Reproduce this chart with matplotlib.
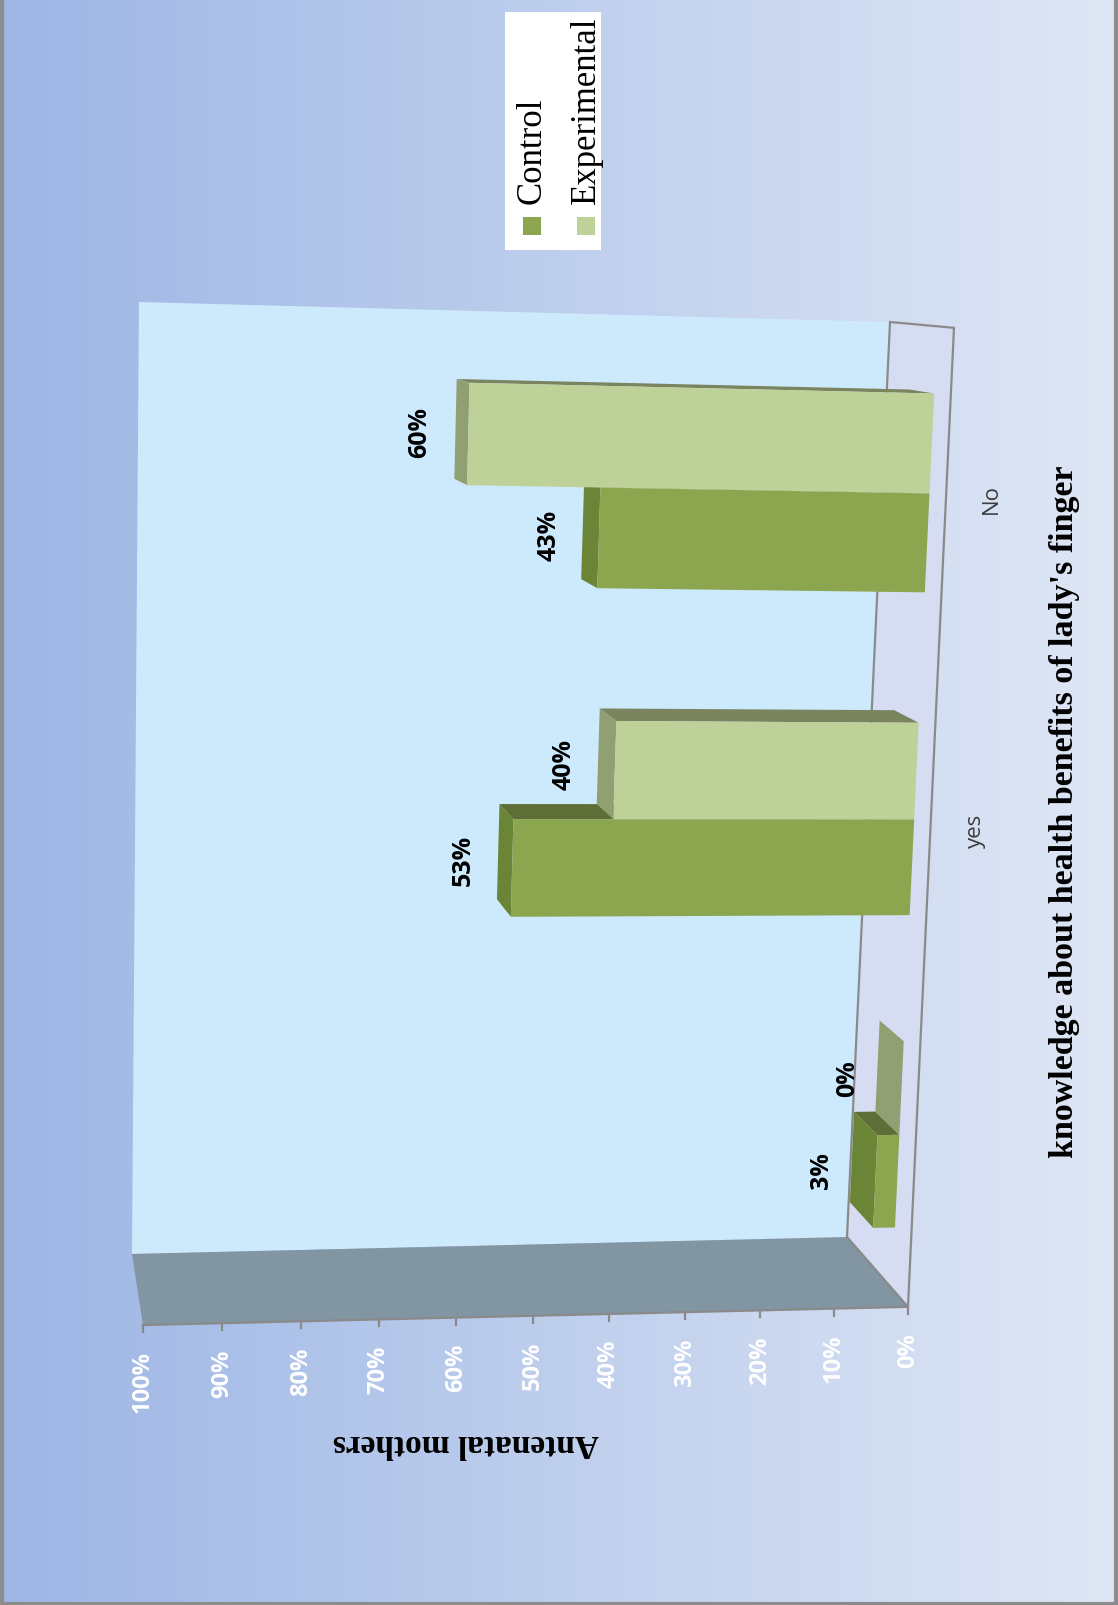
import numpy as np
import matplotlib.pyplot as plt
from matplotlib.patches import Polygon, Rectangle

# data
categories = ['', 'yes', 'No']
control = [3, 53, 43]
experimental = [0, 40, 60]
series_names = ['Control', 'Experimental']
tick_values = list(range(0, 101, 10))

W, H = 1118, 1606
fig = plt.figure(figsize=(W / 100, H / 100), dpi=100)
ax = fig.add_axes([0, 0, 1, 1])
ax.set_xlim(0, W)
ax.set_ylim(H, 0)
ax.axis('off')

SANS = 'Open Sans'
SERIF = 'Liberation Serif'

# background gradient (chart is laid on its side)
c_left = np.array([157, 182, 229]) / 255
c_right = np.array([223, 231, 245]) / 255
t = np.linspace(0, 1, 256)[None, :, None]
grad = c_left * (1 - t) + c_right * t
ax.imshow(grad, extent=(0, W, H, 0), aspect='auto', zorder=0)


# perspective: back wall plane via homography, depth towards a vanishing point
def homography(src, dst):
    rows = []
    for (x, y), (u, v) in zip(src, dst):
        rows.append([x, y, 1, 0, 0, 0, -u * x, -u * y, -u])
        rows.append([0, 0, 0, x, y, 1, -v * x, -v * y, -v])
    _, _, vt = np.linalg.svd(np.array(rows, float))
    return vt[-1].reshape(3, 3)


HM = homography([(0, 0), (1, 0), (1, 1), (0, 1)],
                [(847, 1238), (132, 1255), (139, 303), (890, 323)])
VP = np.array([-24.0, 240.0])
K = 0.07


def proj(val, c, d):
    p = HM @ np.array([val / 100.0, c, 1.0])
    p = p[:2] / p[2]
    return VP + (p - VP) * (1 + K * d)


def face(pts, color, z, ec='none', lw=0):
    ax.add_patch(Polygon(np.array(pts), closed=True, facecolor=color,
                         edgecolor=ec, linewidth=lw, zorder=z))


# back wall, side wall, floor
face([proj(0, 0, 0), proj(100, 0, 0), proj(100, 1, 0), proj(0, 1, 0)], '#cdeafd', 1)
face([proj(0, 0, 0), proj(100, 0, 0), proj(100, 0, 1), proj(0, 0, 1)], '#8196a2', 1)
face([proj(0, 0, 0), proj(0, 1, 0), proj(0, 1, 1), proj(0, 0, 1)], '#d6ddf2', 1,
     ec='#8a8a8a', lw=1.6)
edge = np.array([proj(0, 0, 1), proj(100, 0, 1)])
ax.plot(edge[:, 0], edge[:, 1], color='#8a8a8a', lw=1.6, zorder=2)

# value axis ticks and labels along the front edge
for v in tick_values:
    x0, y0 = proj(v, 0, 1)
    ax.plot([x0, x0], [y0, y0 + 7], color='#8a8a8a', lw=1.6, zorder=2)
    ax.text(x0, y0 + 25, f'{v}%', rotation=90, ha='center', va='top',
            color='white', fontsize=17, fontweight='bold', family=SANS, zorder=3)

# bars
bw = 0.1
d0, d1 = 0.35, 0.74
styles = [
    ('#8ca650', '#6b8537', '#5f6e37'),
    ('#bed198', '#91a073', '#7a845f'),
]
z = 5
for i in range(len(categories)):
    center = (i + 0.5) / len(categories)
    for s, vals in enumerate([control, experimental]):
        val = vals[i]
        ca = center - bw + s * bw
        cb = ca + bw
        front_c, top_c, side_c = styles[s]
        face([proj(0, cb, d0), proj(val, cb, d0), proj(val, cb, d1), proj(0, cb, d1)], side_c, z)
        face([proj(val, ca, d0), proj(val, cb, d0), proj(val, cb, d1), proj(val, ca, d1)], top_c, z)
        face([proj(0, ca, d1), proj(val, ca, d1), proj(val, cb, d1), proj(0, cb, d1)], front_c, z)
        z += 1
        lx, ly = proj(val, (ca + cb) / 2, (d0 + d1) / 2)
        ax.text(lx - 42, ly, f'{val}%', rotation=90, ha='center', va='center',
                fontsize=18, fontweight='bold', family=SANS, color='black', zorder=20)

# category labels
for i, name in enumerate(categories):
    cx, cy = proj(0, (i + 0.5) / len(categories), 1)
    ax.text(cx + 45, cy, name, rotation=90, ha='center', va='center',
            fontsize=16, family=SANS, color='#3c3c3c', zorder=3)

# axis titles
ax.text(466, 1444, 'Antenatal mothers', rotation=180, ha='center', va='center',
        fontsize=24, fontweight='bold', family=SERIF, color='black')
ax.text(1065, 812, "knowledge about health benefits of lady's finger", rotation=90,
        ha='center', va='center', fontsize=24.5, fontweight='bold',
        family=SERIF, color='black')

# legend
ax.add_patch(Rectangle((505, 13), 96, 238, facecolor='white', edgecolor='none', zorder=10))
for s, name in enumerate(series_names):
    mx = 532 + s * 54
    ax.add_patch(Rectangle((mx - 9, 218), 18, 18, facecolor=styles[s][0],
                           edgecolor='none', zorder=11))
    ax.text(mx, 204, name, rotation=90, ha='center', va='bottom', fontsize=25,
            family=SERIF, color='black', zorder=11)

# frame
ax.add_patch(Rectangle((1.5, -5), W - 4, H + 3.5, facecolor='none',
                       edgecolor='#8c8c8c', linewidth=3, zorder=30))

fig.savefig('out.png', dpi=100)
